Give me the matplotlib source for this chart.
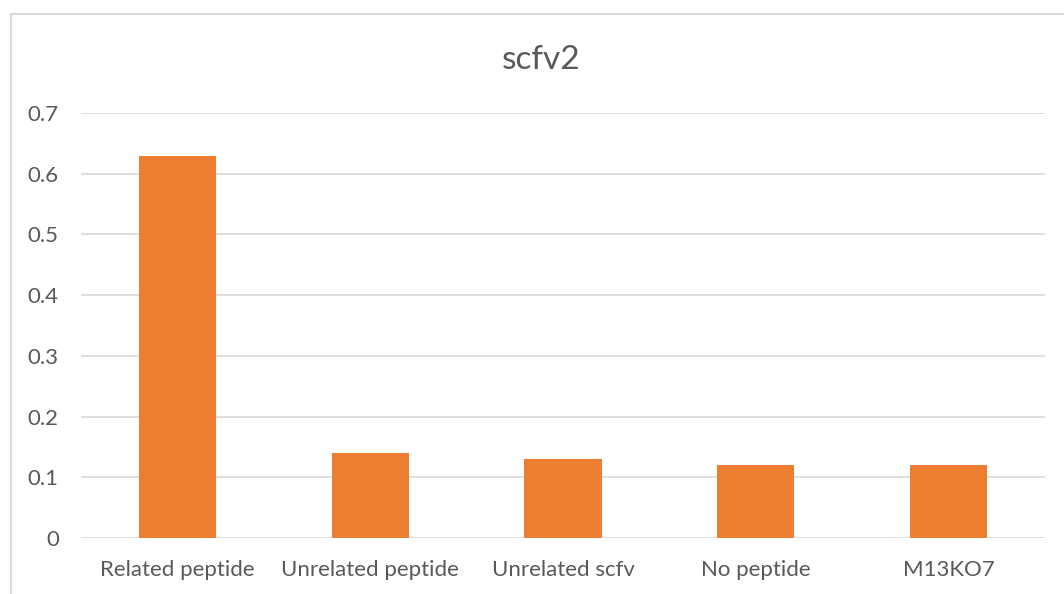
import matplotlib
matplotlib.use("Agg")
import matplotlib.pyplot as plt
from matplotlib.patches import Rectangle

categories = ["Related peptide", "Unrelated peptide", "Unrelated scfv", "No peptide", "M13KO7"]
values = [0.63, 0.14, 0.13, 0.12, 0.12]
yticks = [0, 0.1, 0.2, 0.3, 0.4, 0.5, 0.6, 0.7]
ytick_labels = ["0", "0.1", "0.2", "0.3", "0.4", "0.5", "0.6", "0.7"]

W, H = 1064, 594
fig = plt.figure(figsize=(W / 100, H / 100), dpi=100)
plt.rcParams['font.family'] = ['Lato', 'DejaVu Sans']

# outer chart border
fig.patches.append(Rectangle((11 / W, -0.05), 1.2, 1 - 14 / H + 0.05, transform=fig.transFigure,
                             fill=False, edgecolor="#d9d9d9", linewidth=1.5))

ax = fig.add_axes([81 / W, 1 - 538 / H, (1045 - 81) / W, (538 - 113) / H])
x = range(len(categories))
ax.bar(x, values, width=0.4, color="#ed7d31", zorder=3)
ax.set_xlim(-0.5, len(categories) - 0.5)
ax.set_ylim(0, 0.7)
ax.set_yticks(yticks)
ax.set_yticklabels(ytick_labels)
ax.set_xticks(list(x))
ax.set_xticklabels(categories)
ax.grid(axis="y", color="#d9d9d9", linewidth=1.2, zorder=0)
for s in ax.spines.values():
    s.set_visible(False)
ax.tick_params(axis="both", length=0, labelsize=16, labelcolor="#595959")
ax.tick_params(axis="y", pad=16)
ax.tick_params(axis="x", pad=16)
fig.text(541 / W, 1 - 60 / H, "scfv2", ha="center", va="center",
         fontsize=24, color="#595959")

fig.savefig("out.png", dpi=100)
